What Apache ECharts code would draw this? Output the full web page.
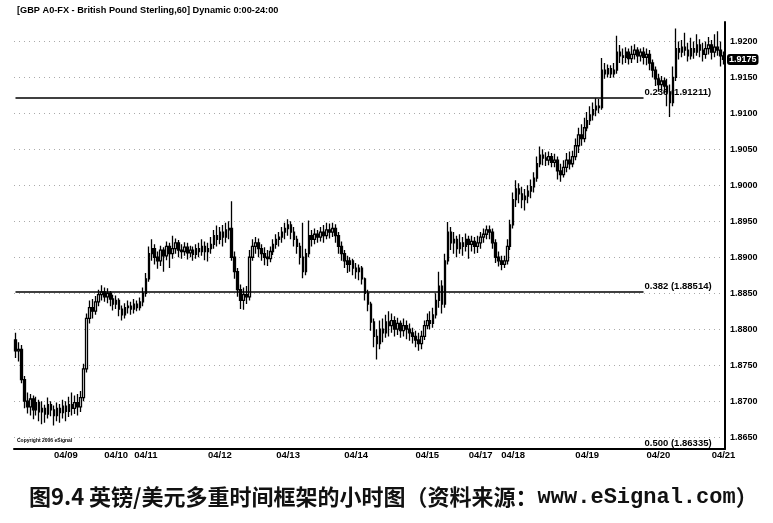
<!DOCTYPE html>
<html><head><meta charset="utf-8">
<script src="https://cdn.jsdelivr.net/npm/echarts@6/dist/echarts.min.js"></script>
<style>html,body{margin:0;padding:0;background:#fff}#c{width:773px;height:523px}</style>
</head><body><div id="c"></div>
<script>
// Hourly GBP/USD bars
const opens = [
1.8785,1.8770,1.8772,1.8730,1.8700,1.8692,1.8703,1.8688,1.8698,1.8685,
1.8690,1.8682,1.8695,1.8688,1.8680,1.8690,1.8684,1.8693,1.8686,1.8695,
1.8690,1.8698,1.8692,1.8705,1.8745,1.8815,1.8830,1.8825,1.8838,1.8848,
1.8852,1.8845,1.8850,1.8842,1.8835,1.8840,1.8828,1.8820,1.8830,1.8832,
1.8828,1.8835,1.8830,1.8838,1.8850,1.8870,1.8905,1.8912,1.8900,1.8895,
1.8910,1.8902,1.8915,1.8905,1.8912,1.8920,1.8910,1.8908,1.8914,1.8906,
1.8910,1.8904,1.8912,1.8908,1.8915,1.8908,1.8912,1.8918,1.8930,1.8925,
1.8935,1.8928,1.8938,1.8940,1.8900,1.8880,1.8855,1.8840,1.8848,1.8845,
1.8900,1.8915,1.8920,1.8912,1.8905,1.8900,1.8898,1.8908,1.8918,1.8925,
1.8928,1.8935,1.8940,1.8945,1.8935,1.8925,1.8915,1.8900,1.8880,1.8905,
1.8930,1.8925,1.8932,1.8928,1.8935,1.8930,1.8938,1.8935,1.8940,1.8930,
1.8915,1.8905,1.8895,1.8890,1.8895,1.8885,1.8880,1.8885,1.8870,1.8850,
1.8835,1.8810,1.8790,1.8780,1.8800,1.8795,1.8810,1.8805,1.8812,1.8800,
1.8808,1.8798,1.8805,1.8800,1.8795,1.8790,1.8785,1.8780,1.8790,1.8805,
1.8812,1.8808,1.8820,1.8840,1.8860,1.8835,1.8895,1.8935,1.8920,1.8925,
1.8912,1.8920,1.8915,1.8925,1.8918,1.8922,1.8915,1.8920,1.8928,1.8932,
1.8938,1.8935,1.8920,1.8900,1.8895,1.8890,1.8895,1.8915,1.8945,1.8980,
1.8995,1.8988,1.8980,1.8985,1.8992,1.8998,1.9010,1.9030,1.9042,1.9038,
1.9035,1.9040,1.9032,1.9035,1.9020,1.9015,1.9025,1.9035,1.9030,1.9040,
1.9055,1.9070,1.9065,1.9080,1.9090,1.9098,1.9105,1.9110,1.9108,1.9160,
1.9155,1.9162,1.9155,1.9160,1.9185,1.9180,1.9178,1.9185,1.9176,1.9182,
1.9188,1.9180,1.9185,1.9178,1.9182,1.9170,1.9160,1.9148,1.9140,1.9145,
1.9138,1.9130,1.9115,1.9150,1.9190,1.9185,1.9192,1.9188,1.9180,1.9190,
1.9185,1.9195,1.9188,1.9182,1.9190,1.9195,1.9185,1.9192,1.9188,1.9180
];
const closes = [
1.8770,1.8772,1.8730,1.8700,1.8692,1.8703,1.8688,1.8698,1.8685,1.8690,
1.8682,1.8695,1.8688,1.8680,1.8690,1.8684,1.8693,1.8686,1.8695,1.8690,
1.8698,1.8692,1.8705,1.8745,1.8815,1.8830,1.8825,1.8838,1.8848,1.8852,
1.8845,1.8850,1.8842,1.8835,1.8840,1.8828,1.8820,1.8830,1.8832,1.8828,
1.8835,1.8830,1.8838,1.8850,1.8870,1.8905,1.8912,1.8900,1.8895,1.8910,
1.8902,1.8915,1.8905,1.8912,1.8920,1.8910,1.8908,1.8914,1.8906,1.8910,
1.8904,1.8912,1.8908,1.8915,1.8908,1.8912,1.8918,1.8930,1.8925,1.8935,
1.8928,1.8938,1.8940,1.8900,1.8880,1.8855,1.8840,1.8848,1.8845,1.8900,
1.8915,1.8920,1.8912,1.8905,1.8900,1.8898,1.8908,1.8918,1.8925,1.8928,
1.8935,1.8940,1.8945,1.8935,1.8925,1.8915,1.8900,1.8880,1.8905,1.8930,
1.8925,1.8932,1.8928,1.8935,1.8930,1.8938,1.8935,1.8940,1.8930,1.8915,
1.8905,1.8895,1.8890,1.8895,1.8885,1.8880,1.8885,1.8870,1.8850,1.8835,
1.8810,1.8790,1.8780,1.8800,1.8795,1.8810,1.8805,1.8812,1.8800,1.8808,
1.8798,1.8805,1.8800,1.8795,1.8790,1.8785,1.8780,1.8790,1.8805,1.8812,
1.8808,1.8820,1.8840,1.8860,1.8835,1.8895,1.8935,1.8920,1.8925,1.8912,
1.8920,1.8915,1.8925,1.8918,1.8922,1.8915,1.8920,1.8928,1.8932,1.8938,
1.8935,1.8920,1.8900,1.8895,1.8890,1.8895,1.8915,1.8945,1.8980,1.8995,
1.8988,1.8980,1.8985,1.8992,1.8998,1.9010,1.9030,1.9042,1.9038,1.9035,
1.9040,1.9032,1.9035,1.9020,1.9015,1.9025,1.9035,1.9030,1.9040,1.9055,
1.9070,1.9065,1.9080,1.9090,1.9098,1.9105,1.9110,1.9108,1.9160,1.9155,
1.9162,1.9155,1.9160,1.9185,1.9180,1.9178,1.9185,1.9176,1.9182,1.9188,
1.9180,1.9185,1.9178,1.9182,1.9170,1.9160,1.9148,1.9140,1.9145,1.9138,
1.9130,1.9115,1.9150,1.9190,1.9185,1.9192,1.9188,1.9180,1.9190,1.9185,
1.9195,1.9188,1.9182,1.9190,1.9195,1.9185,1.9192,1.9188,1.9180,1.9175
];
const lows = [
1.8760,1.8755,1.8725,1.8690,1.8683,1.8680,1.8675,1.8680,1.8672,1.8668,
1.8670,1.8676,1.8679,1.8666,1.8672,1.8670,1.8676,1.8672,1.8678,1.8680,
1.8682,1.8680,1.8685,1.8700,1.8740,1.8808,1.8815,1.8820,1.8832,1.8840,
1.8838,1.8836,1.8832,1.8826,1.8828,1.8818,1.8812,1.8815,1.8822,1.8820,
1.8822,1.8825,1.8826,1.8832,1.8845,1.8866,1.8895,1.8890,1.8884,1.8888,
1.8880,1.8896,1.8885,1.8898,1.8905,1.8900,1.8898,1.8902,1.8897,1.8900,
1.8895,1.8898,1.8900,1.8902,1.8896,1.8894,1.8905,1.8912,1.8915,1.8918,
1.8915,1.8920,1.8925,1.8895,1.8870,1.8845,1.8828,1.8827,1.8835,1.8840,
1.8895,1.8905,1.8900,1.8895,1.8889,1.8888,1.8893,1.8903,1.8912,1.8915,
1.8920,1.8925,1.8930,1.8925,1.8915,1.8905,1.8890,1.8871,1.8875,1.8900,
1.8915,1.8918,1.8920,1.8922,1.8920,1.8925,1.8926,1.8928,1.8920,1.8905,
1.8895,1.8885,1.8878,1.8880,1.8875,1.8870,1.8868,1.8862,1.8840,1.8825,
1.8798,1.8775,1.8758,1.8772,1.8782,1.8788,1.8790,1.8795,1.8790,1.8792,
1.8788,1.8790,1.8786,1.8784,1.8780,1.8775,1.8770,1.8772,1.8785,1.8800,
1.8800,1.8802,1.8815,1.8830,1.8822,1.8830,1.8890,1.8910,1.8905,1.8900,
1.8905,1.8902,1.8908,1.8898,1.8908,1.8905,1.8906,1.8912,1.8920,1.8925,
1.8925,1.8912,1.8892,1.8887,1.8882,1.8885,1.8890,1.8910,1.8940,1.8970,
1.8975,1.8968,1.8965,1.8975,1.8982,1.8990,1.9005,1.9025,1.9028,1.9027,
1.9028,1.9025,1.9025,1.9008,1.9005,1.9011,1.9018,1.9022,1.9025,1.9035,
1.9045,1.9055,1.9060,1.9075,1.9084,1.9090,1.9096,1.9100,1.9105,1.9148,
1.9150,1.9149,1.9150,1.9155,1.9170,1.9168,1.9170,1.9168,1.9170,1.9175,
1.9170,1.9172,1.9168,1.9167,1.9160,1.9150,1.9138,1.9130,1.9132,1.9128,
1.9110,1.9095,1.9110,1.9145,1.9175,1.9178,1.9180,1.9172,1.9175,1.9176,
1.9180,1.9178,1.9172,1.9176,1.9182,1.9175,1.9178,1.9180,1.9165,1.9168
];
const highs = [
1.8795,1.8782,1.8778,1.8735,1.8712,1.8710,1.8708,1.8706,1.8702,1.8700,
1.8695,1.8705,1.8700,1.8694,1.8698,1.8696,1.8702,1.8700,1.8706,1.8712,
1.8708,1.8710,1.8714,1.8752,1.8822,1.8840,1.8842,1.8846,1.8855,1.8861,
1.8858,1.8857,1.8853,1.8848,1.8847,1.8843,1.8833,1.8836,1.8840,1.8838,
1.8842,1.8840,1.8844,1.8858,1.8878,1.8915,1.8925,1.8918,1.8908,1.8916,
1.8914,1.8922,1.8920,1.8930,1.8926,1.8924,1.8918,1.8921,1.8920,1.8916,
1.8915,1.8918,1.8920,1.8925,1.8922,1.8920,1.8928,1.8938,1.8944,1.8942,
1.8945,1.8948,1.8950,1.8978,1.8908,1.8885,1.8862,1.8858,1.8860,1.8910,
1.8925,1.8928,1.8926,1.8918,1.8914,1.8910,1.8915,1.8925,1.8932,1.8935,
1.8942,1.8948,1.8953,1.8950,1.8942,1.8930,1.8920,1.8948,1.8912,1.8951,
1.8938,1.8940,1.8938,1.8942,1.8945,1.8948,1.8947,1.8948,1.8946,1.8935,
1.8922,1.8910,1.8902,1.8900,1.8898,1.8892,1.8890,1.8888,1.8872,1.8855,
1.8838,1.8815,1.8800,1.8812,1.8815,1.8820,1.8825,1.8822,1.8818,1.8816,
1.8812,1.8815,1.8812,1.8808,1.8802,1.8798,1.8795,1.8798,1.8812,1.8822,
1.8825,1.8830,1.8850,1.8880,1.8868,1.8905,1.8949,1.8942,1.8935,1.8930,
1.8932,1.8928,1.8933,1.8930,1.8930,1.8928,1.8930,1.8935,1.8940,1.8944,
1.8944,1.8940,1.8925,1.8908,1.8902,1.8902,1.8925,1.8952,1.8990,1.9007,
1.9003,1.8998,1.8995,1.9000,1.9008,1.9018,1.9040,1.9054,1.9050,1.9046,
1.9047,1.9045,1.9044,1.9040,1.9030,1.9035,1.9045,1.9047,1.9048,1.9065,
1.9080,1.9085,1.9094,1.9102,1.9110,1.9115,1.9121,1.9120,1.9177,1.9170,
1.9168,1.9167,1.9170,1.9208,1.9195,1.9190,1.9192,1.9190,1.9194,1.9196,
1.9192,1.9190,1.9192,1.9190,1.9188,1.9175,1.9165,1.9155,1.9152,1.9150,
1.9148,1.9140,1.9165,1.9218,1.9200,1.9202,1.9212,1.9198,1.9205,1.9200,
1.9210,1.9203,1.9198,1.9200,1.9206,1.9202,1.9210,1.9214,1.9200,1.9186
];
// Day labels and the bar where each appears
const dayLabels = ['04/09','04/10','04/11','04/12','04/13','04/14','04/15','04/17','04/18','04/19','04/20','04/21'];
const dayLabelBars = [17, 34, 44, 69, 92, 115, 139, 157, 168, 193, 217, 239];
// Price-axis tick labels
const priceTicks = [1.8650,1.8700,1.8750,1.8800,1.8850,1.8900,1.8950,1.9000,1.9050,1.9100,1.9150,1.9200];
// Fibonacci retracement levels
const fibRatios = ['0.236','0.382','0.500'];
const fibPrices = [1.91211, 1.88514, 1.86335];
const fibEndBar = 212;
const fibLabelEndBar = 236;

const categories = opens.map((_, i) => String(i));
const labelAt = {};
dayLabelBars.forEach((b, k) => { labelAt[b] = dayLabels[k]; });
const ohlc = opens.map((o, i) => [o, closes[i], lows[i], highs[i]]);
const lastClose = closes[closes.length - 1];

const fibLines = [];
fibPrices.forEach((p, k) => {
  fibLines.push([{ coord: [0, p] }, { coord: [fibEndBar, p] }]);
  fibLines.push([
    { coord: [fibEndBar, p], lineStyle: { color: 'rgba(0,0,0,0)' },
      label: { show: true, position: 'insideStartTop', distance: 1,
        formatter: fibRatios[k] + ' (' + p.toFixed(5) + ')' } },
    { coord: [fibLabelEndBar, p] }
  ]);
});

const chart = echarts.init(document.getElementById('c'), null, { renderer: 'canvas' });
const FONT = 'Liberation Sans';
chart.setOption({
  animation: false,
  backgroundColor: '#fff',
  axisPointer: { triggerOn: 'none' },
  title: [
    { text: '[GBP A0-FX - British Pound Sterling,60] Dynamic 0:00-24:00', left: 17, top: 6, padding: 0,
      textStyle: { fontSize: 9.2, fontWeight: 'bold', color: '#000', fontFamily: FONT } },
    { text: 'Copyright 2006 eSignal', left: 17, top: 438, padding: 0,
      textStyle: { fontSize: 5, fontWeight: 'bold', color: '#000', fontFamily: FONT } },
    { text: '{a|图9.4 英镑/美元多重时间框架的小时图（资料来源：}{b|www.eSignal.com}{a|）}',
      left: 29, top: 486, padding: 0,
      textStyle: { rich: {
        a: { fontSize: 22, fontWeight: 'bold', color: '#111', fontFamily: 'Noto Sans CJK SC' },
        b: { fontSize: 22, fontWeight: 'bold', color: '#111', fontFamily: 'Liberation Mono' }
      } } }
  ],
  grid: { left: 14, right: 48, top: 22, bottom: 74 },
  xAxis: {
    type: 'category', data: categories, boundaryGap: true,
    axisLine: { lineStyle: { color: '#000', width: 2 } },
    axisTick: { show: false },
    axisLabel: {
      interval: (i) => labelAt[i] !== undefined,
      formatter: (v, i) => labelAt[i] || '',
      color: '#000', fontSize: 9.5, fontWeight: 'bold', fontFamily: FONT, margin: 1
    },
    splitLine: { show: false }
  },
  yAxis: {
    type: 'value', position: 'right', min: 1.86335, max: 1.9227,
    axisLine: { show: true, lineStyle: { color: '#000', width: 2 } },
    axisTick: { show: false, customValues: priceTicks },
    axisLabel: { customValues: priceTicks, formatter: (v) => v.toFixed(4),
      color: '#000', fontSize: 9, fontWeight: 'bold', fontFamily: FONT, margin: 5 },
    splitLine: { show: true, lineStyle: { color: '#aaa', width: 1, type: [1, 4] } },
    axisPointer: {
      show: true, status: 'show', value: lastClose, snap: false, triggerTooltip: false,
      lineStyle: { color: 'rgba(0,0,0,0)', width: 0 },
      label: { show: true, formatter: (p) => Number(p.value).toFixed(4), backgroundColor: '#000',
        color: '#fff', fontSize: 9, fontWeight: 'bold', fontFamily: FONT, padding: [1, 2], margin: 2,
        shadowBlur: 0 }
    }
  },
  series: [{
    type: 'candlestick', data: ohlc, barWidth: 2, clip: false,
    itemStyle: { color: '#fff', color0: '#000', borderColor: '#000', borderColor0: '#000', borderWidth: 1.3 },
    markLine: {
      silent: true, symbol: 'none', animation: false,
      lineStyle: { color: '#000', width: 1.5, type: 'solid' },
      label: { show: false, color: '#000', fontSize: 9.5, fontWeight: 'bold', fontFamily: FONT },
      data: fibLines
    }
  }]
});
</script>
</body></html>
